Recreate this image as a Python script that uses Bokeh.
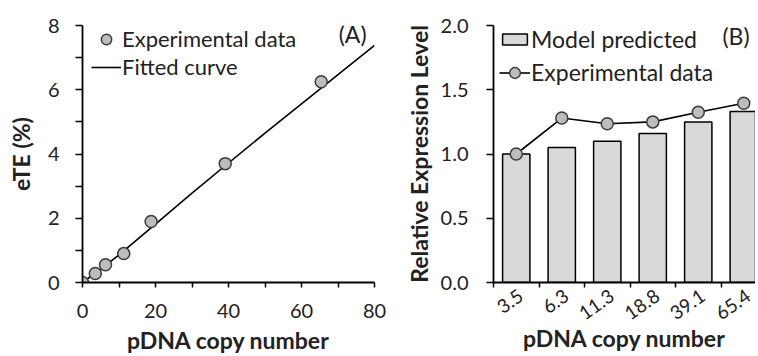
import math
from bokeh.plotting import figure
from bokeh.layouts import row
from bokeh.models import Range1d, FixedTicker, Legend, LegendItem, Label
from bokeh.embed import file_html
from bokeh.resources import INLINE

FONT = "Lato"

# ---- Panel A data ----
copy_number = [0, 3.5, 6.3, 11.3, 18.8, 39.1, 65.4]
ete_exp = [0, 0.28, 0.55, 0.90, 1.90, 3.70, 6.25]
fit_x = [0, 5, 10, 20, 30, 40, 50, 60, 70, 80]
fit_y = [0, 0.42, 0.86, 1.82, 2.78, 3.72, 4.65, 5.56, 6.47, 7.38]
a_xticks = [0, 20, 40, 60, 80]
a_xminor = [10, 30, 50, 70]
a_yticks = [0, 2, 4, 6, 8]
a_yminor = [1, 3, 5, 7]

# ---- Panel B data ----
b_labels = ["3.5", "6.3", "11.3", "18.8", "39.1", "65.4"]
b_model = [1.00, 1.05, 1.10, 1.16, 1.25, 1.33]
b_exp = [1.00, 1.28, 1.235, 1.25, 1.325, 1.395]
b_yticks = [0.0, 0.5, 1.0, 1.5, 2.0]

MARK_FILL = "#bdbdbd"
MARK_LINE = "#3c3c3c"
BAR_FILL = "#d9d9d9"
TXT = "#222222"


def style_axes(p):
    for ax in (p.xaxis[0], p.yaxis[0]):
        ax.axis_line_color = "black"
        ax.axis_line_width = 1.8
        ax.major_tick_line_color = "black"
        ax.major_tick_line_width = 1.5
        ax.minor_tick_line_color = "black"
        ax.minor_tick_line_width = 1.5
        ax.major_tick_in = 0
        ax.minor_tick_in = 0
        ax.major_label_text_font = FONT
        ax.major_label_text_font_size = "20px"
        ax.major_label_text_color = TXT
        ax.axis_label_text_font = FONT
        ax.axis_label_text_font_size = "23px"
        ax.axis_label_text_font_style = "bold"
        ax.axis_label_text_color = TXT
    p.grid.visible = False
    p.outline_line_color = None


def make_legend(items, loc, gw, gh, lh, spacing=0, size="23px"):
    return Legend(items=items, location=loc, margin=0, padding=0,
                  spacing=spacing, glyph_width=gw, glyph_height=gh,
                  label_height=lh, label_standoff=1,
                  background_fill_alpha=0, border_line_alpha=0,
                  label_text_font=FONT, label_text_font_size=size,
                  label_text_color=TXT)


# ================= Panel A =================
pA = figure(frame_width=292, frame_height=257, output_backend="svg",
            toolbar_location=None,
            x_range=Range1d(0, 80), y_range=Range1d(0, 8),
            min_border_left=82, min_border_right=15, min_border_top=25,
            min_border_bottom=74)
style_axes(pA)
pA.xaxis[0].ticker = FixedTicker(ticks=a_xticks, minor_ticks=a_xminor)
pA.yaxis[0].ticker = FixedTicker(ticks=a_yticks, minor_ticks=a_yminor)
pA.xaxis[0].major_tick_out = 5
pA.xaxis[0].minor_tick_out = 5
pA.yaxis[0].major_tick_out = 7
pA.yaxis[0].minor_tick_out = 7
pA.xaxis[0].major_label_standoff = 16
pA.yaxis[0].major_label_standoff = 16
pA.xaxis[0].axis_label = "pDNA copy number"
pA.yaxis[0].axis_label = "eTE (%)"
pA.xaxis[0].axis_label_standoff = 5
pA.yaxis[0].axis_label_standoff = 10

fit_r = pA.line(fit_x, fit_y, line_color="black", line_width=1.6)
exp_r = pA.scatter(copy_number, ete_exp, size=12, fill_color=MARK_FILL,
                   line_color=MARK_LINE, line_width=1.5)

pA.add_layout(make_legend([LegendItem(label="Experimental data", renderers=[exp_r]),
                           LegendItem(label="Fitted curve", renderers=[fit_r])],
                          (9, 202), 30, 26, 26, spacing=1, size="22px"))
pA.add_layout(Label(x=74, y=7.72, text="(A)", text_align="center",
                    text_baseline="middle", text_font=FONT,
                    text_font_size="23px", text_color=TXT))

# ================= Panel B =================
b_x = [i + 0.5 for i in range(len(b_labels))]
b_label_pos = [x + 0.1 for x in b_x]
pB = figure(frame_width=262, frame_height=257, output_backend="svg",
            toolbar_location=None,
            x_range=Range1d(0, 262 / 45.5), y_range=Range1d(0, 2.0),
            min_border_left=104, min_border_right=0, min_border_top=25,
            min_border_bottom=74)
style_axes(pB)
pB.xaxis[0].ticker = FixedTicker(ticks=b_label_pos, minor_ticks=list(range(0, 7)))
pB.xaxis[0].major_label_overrides = {x: l for x, l in zip(b_label_pos, b_labels)}
pB.xaxis[0].major_tick_out = 0
pB.xaxis[0].minor_tick_out = 5
pB.xaxis[0].major_label_orientation = math.radians(35)
pB.xaxis[0].major_label_text_font_size = "19px"
pB.xaxis[0].major_label_standoff = 6
pB.yaxis[0].ticker = FixedTicker(ticks=b_yticks)
pB.yaxis[0].major_label_overrides = {v: f"{v:.1f}" for v in b_yticks}
pB.yaxis[0].major_tick_out = 7
pB.yaxis[0].minor_tick_out = 0
pB.yaxis[0].major_label_standoff = 18
pB.xaxis[0].axis_label = "pDNA copy number"
pB.yaxis[0].axis_label = "Relative Expression Level"
pB.xaxis[0].axis_label_standoff = -6
pB.yaxis[0].axis_label_standoff = 5

bar_r = pB.vbar(x=b_x, top=b_model, width=0.6, fill_color=BAR_FILL,
                line_color="black", line_width=1.5)
line_r = pB.line(b_x, b_exp, line_color="black", line_width=1.6)
pt_r = pB.scatter(b_x, b_exp, size=12, fill_color=MARK_FILL,
                  line_color=MARK_LINE, line_width=1.5)

pB.add_layout(make_legend([LegendItem(label="Model predicted", renderers=[bar_r])],
                          (6, 229), 31, 14, 27))
pB.add_layout(make_legend([LegendItem(label="Experimental data", renderers=[line_r, pt_r])],
                          (6, 196), 31, 27, 27))
pB.add_layout(Label(x=5.33, y=1.92, text="(B)", text_align="center",
                    text_baseline="middle", text_font=FONT,
                    text_font_size="23px", text_color=TXT))

layout = row(pA, pB)
open("out.html", "w").write(file_html(layout, INLINE))
